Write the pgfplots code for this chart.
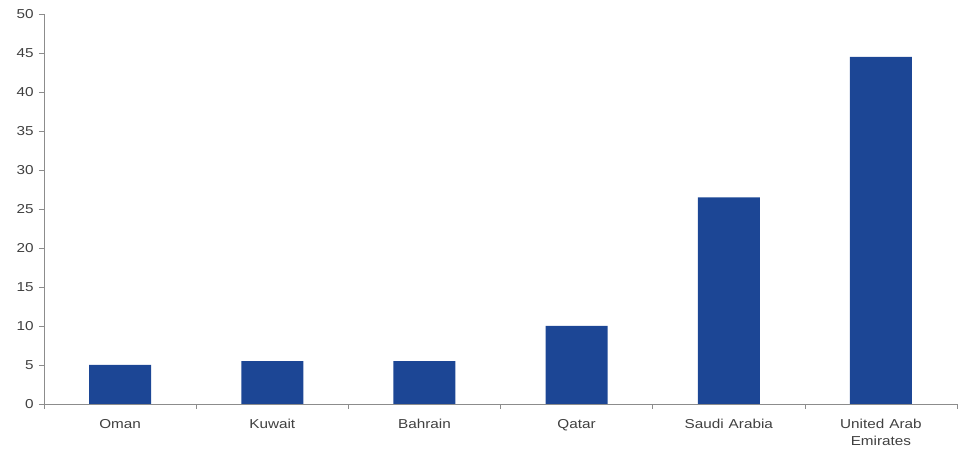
\documentclass[border=0pt]{standalone}
\usepackage{pgfplots}
\pgfplotsset{compat=1.18}
\usetikzlibrary{calc}
\usepackage{fontspec}
\setmainfont{Liberation Sans}
\definecolor{barblue}{HTML}{1C4695}
\definecolor{axisgray}{HTML}{8C8C8C}
\definecolor{txtgray}{HTML}{404040}
\begin{document}
\begin{tikzpicture}
\begin{axis}[
  scale only axis,
  width=913bp, height=390bp,
  xmin=-0.5, xmax=5.5,
  ymin=0, ymax=50,
  ytick={0,5,...,50},
  xtick={-0.5,0.5,1.5,2.5,3.5,4.5,5.5},
  x tick label as interval,
  xticklabels={Oman,Kuwait,Bahrain,Qatar,Saudi Arabia,{United Arab\\Emirates}},
  x tick label style={align=center, text width=100bp, font=\fontsize{13}{17}\selectfont, text=txtgray, xscale=1.18, yshift=-6.5bp},
  y tick label style={font=\fontsize{13}{15}\selectfont, text=txtgray, xscale=1.18},
  /pgf/number format/assume math mode=true,
  tick align=outside,
  major tick length=5bp,
  axis x line*=bottom,
  axis y line*=left,
  axis line style={draw=axisgray, line width=0.6pt, -},
  tick style={draw=axisgray, line width=0.6pt},
  yticklabel style={xshift=-1bp},
  ybar,
  bar width=62bp,
  clip=false,
]
\addplot[fill=barblue, draw=none] coordinates {(0,5.0) (1,5.5) (2,5.5) (3,10.0) (4,26.5) (5,44.5)};
\end{axis}
\pgfresetboundingbox
\useasboundingbox ($(current axis.south west)+(-44bp,-45bp)$) rectangle ($(current axis.north east)+(6bp,14bp)$);
\end{tikzpicture}
\end{document}
